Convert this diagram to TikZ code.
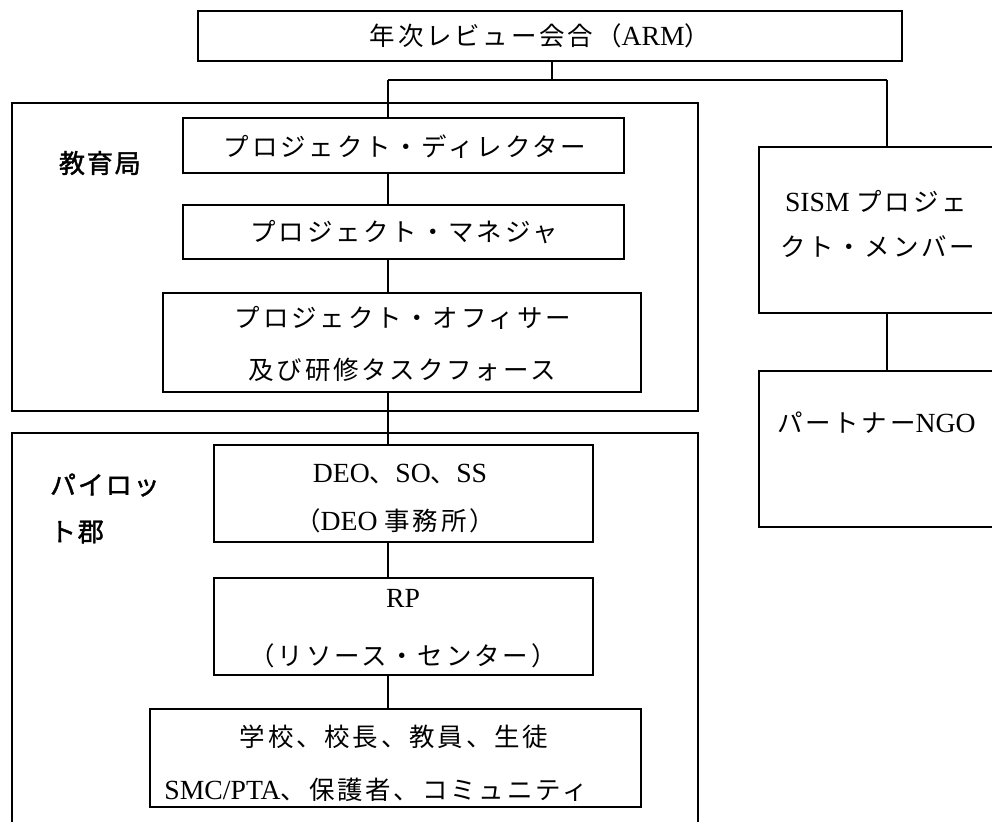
\documentclass[tikz,border=0pt]{standalone}
\usepackage{fontspec}
\setmainfont{Liberation Serif}
\newfontfamily\jp{Noto Sans CJK JP}[Scale=0.92, LetterSpace=11]
\newfontfamily\jpb{Noto Sans CJK JP}[Scale=0.94, LetterSpace=7, FakeBold=1.5]
\begin{document}
\begin{tikzpicture}[x=1pt,y=-1pt,
  box/.style={draw, line width=1.4pt, rectangle, inner sep=0pt, outer sep=0pt},
  txt/.style={inner sep=0pt, outer sep=0pt, font=\fontsize{27.7}{32}\selectfont},
  lbl/.style={inner sep=0pt, outer sep=0pt, anchor=west, font=\fontsize{27.7}{32}\selectfont\jpb},
  conn/.style={line width=1.4pt}]
\useasboundingbox (0,0) rectangle (992,821);
\clip (0,0) rectangle (992,821);
\fill[white] (0,0) rectangle (992,821);

% boxes
\node[box, minimum width=704, minimum height=50] (arm) at (550,36) {};
\node[box, minimum width=686, minimum height=308] (edu) at (355,257) {};
\node[box, minimum width=441, minimum height=55] (pd) at (403.5,145.5) {};
\node[box, minimum width=441, minimum height=54] (pm) at (403.5,232) {};
\node[box, minimum width=478, minimum height=99] (po) at (402,342.5) {};
\node[box, minimum width=686, minimum height=440] (pilot) at (355,653) {};
\node[box, minimum width=379, minimum height=97] (deo) at (403.5,493.5) {};
\node[box, minimum width=379, minimum height=97] (rp) at (403.5,626.5) {};
\node[box, minimum width=491, minimum height=98] (sch) at (395.5,758) {};
\node[box, minimum width=258, minimum height=166] (sism) at (888,230) {};
\node[box, minimum width=258, minimum height=156] (ngo) at (888,449) {};

% connectors
\coordinate (jl) at (388,80);
\coordinate (jm) at (552,80);
\coordinate (jr) at (887,80);
\draw[conn] (jm |- arm.south) -- (jm);
\draw[conn] (jl) -- (jr);
\draw[conn] (jl) -- (jl |- pd.north);
\draw[conn] (jr) -- (jr |- sism.north);
\draw[conn] (jl |- pd.south) -- (jl |- pm.north);
\draw[conn] (jl |- pm.south) -- (jl |- po.north);
\draw[conn] (jl |- po.south) -- (jl |- deo.north);
\draw[conn] (jl |- deo.south) -- (jl |- rp.north);
\draw[conn] (jl |- rp.south) -- (jl |- sch.north);
\draw[conn] (jr |- sism.south) -- (jr |- ngo.north);

% texts
\node[txt] (tarm) at (540,36) {{\jp 年次レビュー会合（}ARM{\jp ）}};
\node[lbl] (tedu) at (59,163) {教育局};
\node[txt] (tpd) at (405,147) {{\jp プロジェクト・ディレクター}};
\node[txt] (tpm) at (404,232) {{\jp プロジェクト・マネジャ}};
\node[txt] (tpo1) at (403,318) {{\jp プロジェクト・オフィサー}};
\node[txt] (tpo2) at (402,370) {{\jp 及び研修タスクフォース}};
\node[lbl] (tpil1) at (50,485) {パイロッ};
\node[lbl] (tpil2) at (50,532) {ト郡};
\node[txt] (tdeo1) at (400,474) {DEO{\jp 、}SO{\jp 、}SS};
\node[txt] (tdeo2) at (395,521) {{\jp （}DEO {\jp 事務所）}};
\node[txt] (trp1) at (403,598) {RP};
\node[txt] (trp2) at (403,656) {{\jp （リソース・センター）}};
\node[txt] (tsch1) at (394,737) {{\jp 学校、校長、教員、生徒}};
\node[txt] (tsch2) at (376,790) {SMC/PTA{\jp 、保護者、コミュニティ}};
\node[txt, anchor=west] (tsism1) at (785,201) {SISM {\jp プロジェ}};
\node[txt, anchor=west] (tsism2) at (780,247) {{\jp クト・メンバー}};
\node[txt, anchor=west] (tngo) at (777,423) {{\jp パートナー}NGO};
\end{tikzpicture}
\end{document}
